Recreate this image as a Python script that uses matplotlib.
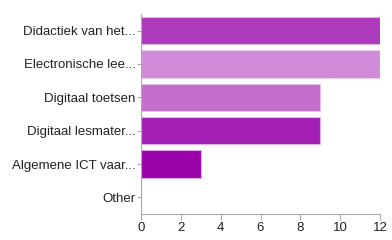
import matplotlib
matplotlib.use("Agg")
import matplotlib.pyplot as plt

categories = ["Didactiek van het...", "Electronische lee...", "Digitaal toetsen",
              "Digitaal lesmater...", "Algemene ICT vaar...", "Other"]
values = [12, 12, 9, 9, 3, 0]
colors = ["#AD3ABB", "#D08BD9", "#C36ECB", "#A31EB3", "#9A02AA", "#9A02AA"]
edge_colors = ["#E4B5EA", "#EACDEF", "#E4BDEA", "#E2B0E8", "#E0A8E6", "#E0A8E6"]
xticks = [0, 2, 4, 6, 8, 10, 12]

plt.rcParams['font.family'] = ['Liberation Sans', 'DejaVu Sans']
fig = plt.figure(figsize=(3.92, 2.40), dpi=100)
ax = fig.add_axes([141/392, 1-214/240, (380-141)/392, 200/240])
y = list(range(len(categories)))
ax.barh(y, values, height=0.82, color=colors, edgecolor=edge_colors, linewidth=0.8)
ax.set_ylim(len(categories) - 0.5, -0.5)
ax.set_xlim(0, 12)
ax.set_yticks(y)
ax.set_yticklabels(categories, fontsize=9.5, color="#222222")
ax.set_xticks(xticks)
ax.set_xticklabels([str(t) for t in xticks], fontsize=9.5, color="#222222")
for s in ["top", "right"]:
    ax.spines[s].set_visible(False)
for s in ["left", "bottom"]:
    ax.spines[s].set_color("#AAAAAA")
    ax.spines[s].set_linewidth(0.8)
ax.tick_params(axis="y", length=3, color="#AAAAAA", pad=1)
ax.tick_params(axis="x", length=4, color="#AAAAAA", pad=2)
fig.savefig("out.png", dpi=100, facecolor="white")
